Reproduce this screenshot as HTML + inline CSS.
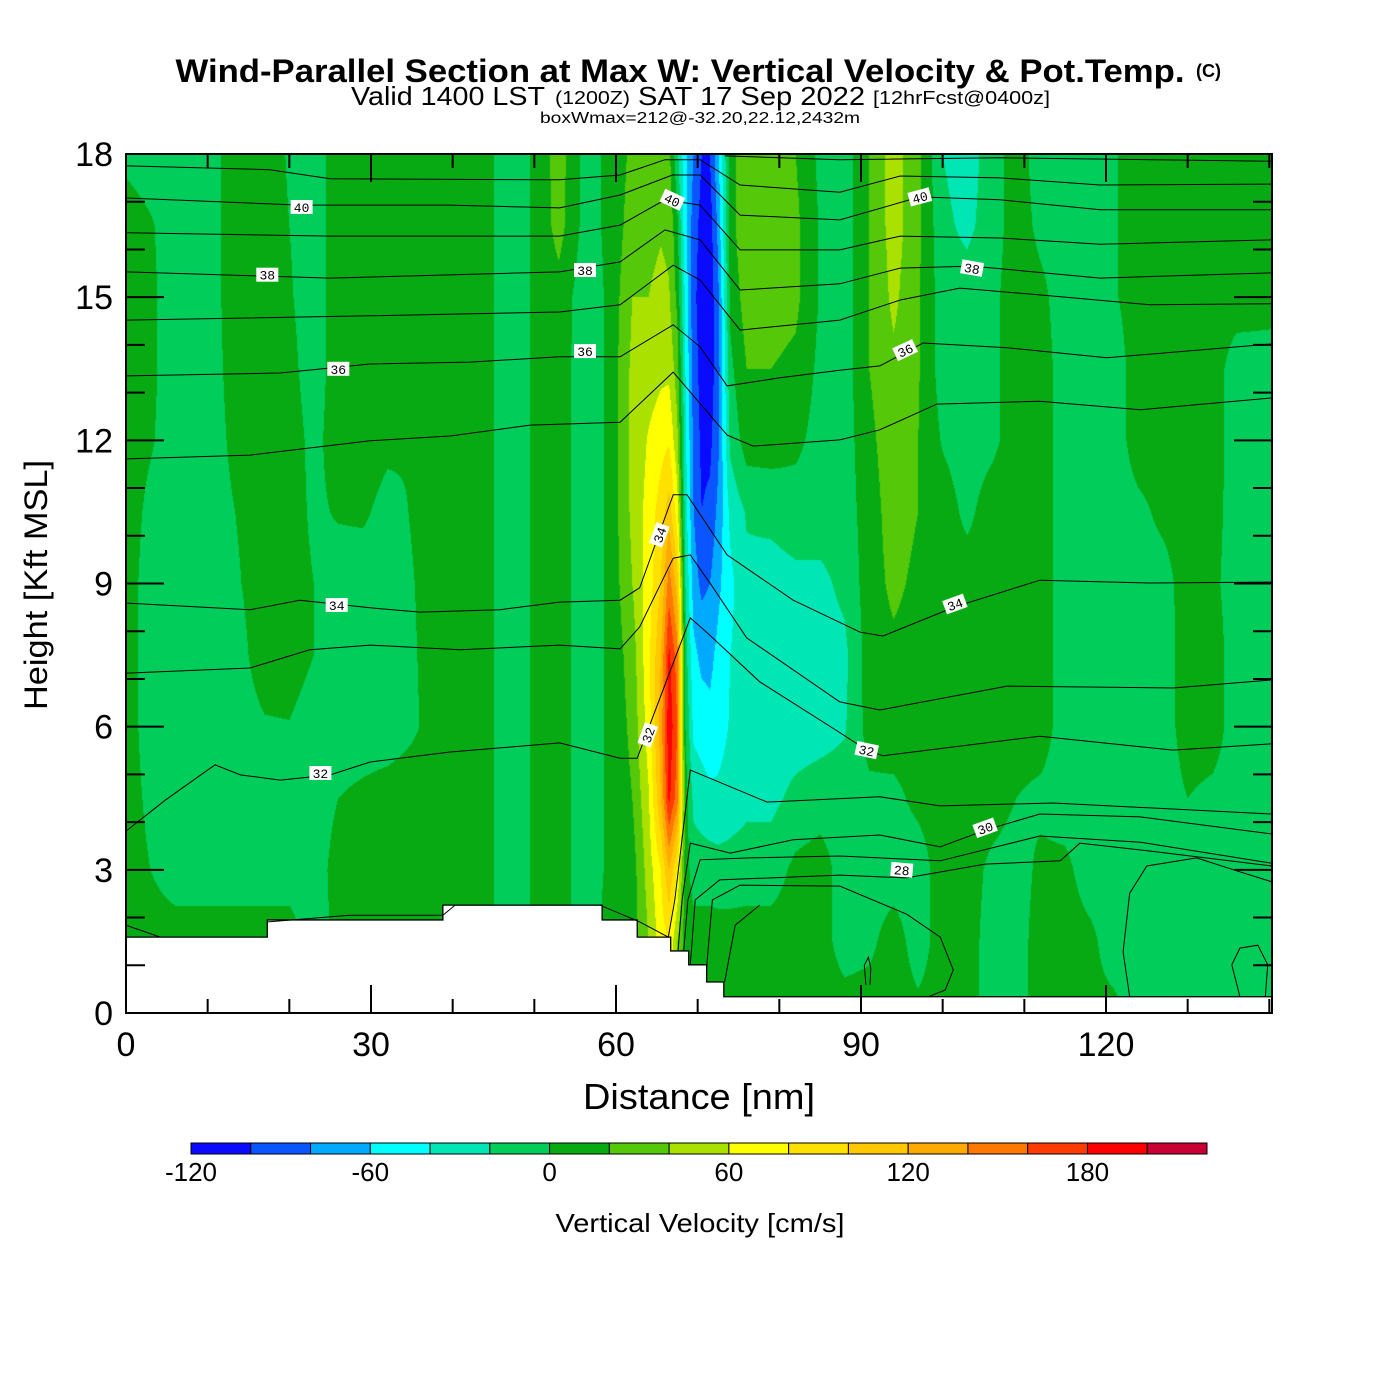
<!DOCTYPE html>
<html><head><meta charset="utf-8">
<style>
html,body{margin:0;padding:0;background:#fff;}
#wrap{position:relative;width:1400px;height:1400px;overflow:hidden;font-family:"Liberation Sans",Arial,sans-serif;}
#field{position:absolute;left:126px;top:154px;}
#ov{position:absolute;left:0;top:0;}
</style></head>
<body>
<div id="wrap">
<canvas id="field" width="1146" height="859"></canvas>
<svg id="ov" width="1400" height="1400" xmlns="http://www.w3.org/2000/svg">
  <g id="terrain"></g>
  <g id="contours"></g>
  <g id="clabels"></g>
  <rect x="126" y="154" width="1146" height="859" fill="none" stroke="#000" stroke-width="2"/>
  <g id="ticks"></g>
  <g id="ticklabels" font-size="34" fill="#000"></g>
  <text x="680" y="82" text-anchor="middle" font-weight="bold" font-size="32" textLength="1009" lengthAdjust="spacingAndGlyphs">Wind-Parallel Section at Max W: Vertical Velocity &amp; Pot.Temp.</text>
  <text x="1196" y="77" font-weight="bold" font-size="18">(C)</text>
  <text x="351" y="105" font-size="26" textLength="194" lengthAdjust="spacingAndGlyphs">Valid 1400 LST</text>
  <text x="555" y="104" font-size="18" textLength="75" lengthAdjust="spacingAndGlyphs">(1200Z)</text>
  <text x="638" y="105" font-size="26" textLength="227" lengthAdjust="spacingAndGlyphs">SAT 17 Sep 2022</text>
  <text x="873" y="104" font-size="18" textLength="177" lengthAdjust="spacingAndGlyphs">[12hrFcst@0400z]</text>
  <text x="700" y="123" text-anchor="middle" font-size="16" textLength="320" lengthAdjust="spacingAndGlyphs">boxWmax=212@-32.20,22.12,2432m</text>
  <text transform="translate(47,585) rotate(-90)" text-anchor="middle" font-size="32" textLength="250" lengthAdjust="spacingAndGlyphs">Height [Kft MSL]</text>
  <text x="699" y="1109" text-anchor="middle" font-size="36" textLength="232" lengthAdjust="spacingAndGlyphs">Distance [nm]</text>
  <g id="cbar"></g>
  <text x="700" y="1232" text-anchor="middle" font-size="26" textLength="289" lengthAdjust="spacingAndGlyphs">Vertical Velocity [cm/s]</text>
</svg>
</div>
<script>
// ---- data ----
const xsNm = [0,3,6,10,13,17,20,23,26,29,32,35,39,43,47,50,53,56,59,62,64,65.5,66.5,67.5,68.5,69.5,70.5,71.5,72.5,74,76,79,82,85,88,91,94,97,100,103,106,109,112,115,118,121,124,127,130,133,136,140.5];
const ysKft = [0,1.5,3,4.5,6,7.5,9,10.5,12,13.5,15,16.5,18];
const wColumns = [
[10,10,10,10,10,10,10,10,10,10,10,10,-5],
[10,10,0,-5,-10,-10,-10,-5,2,4,4,2,-10],
[10,10,-10,-10,-10,-10,-10,-10,-10,-10,-10,-10,-10],
[10,10,-10,-10,-10,-10,-10,-10,-10,-10,-10,-10,-10],
[10,10,-10,-10,-10,-10,-4,-1,3,6,8,8,8],
[10,10,-10,-10,-2,10,10,10,10,10,10,10,10],
[10,10,-10,-10,-1,10,10,10,10,6,2,0,-2],
[10,-10,-10,-10,-10,0,0,-4,-6,-10,-10,-10,-10],
[10,5,8,0,-10,-10,-10,2,10,10,10,10,10],
[10,10,10,4,-10,-10,-10,3,10,10,10,10,10],
[10,10,10,8,-10,-10,-10,-6,4,10,10,10,10],
[10,10,10,10,-3,-2,-1,1,1,6,8,8,8],
[10,10,10,10,10,10,10,10,10,10,10,10,10],
[10,10,10,10,10,10,10,10,10,10,10,10,10],
[-10,-10,-10,-10,-10,-10,-10,-10,-10,-10,-10,-10,-10],
[2,2,2,2,2,2,2,2,2,2,2,2,2],
[10,10,10,10,10,10,10,10,10,10,12,28,30],
[10,-10,-10,-10,-10,-10,-10,-10,-10,-10,-10,-5,-5],
[10,5,2,2,2,2,2,2,2,2,2,2,2],
[10,10,10,20,25,30,40,45,45,45,40,30,25],
[20,40,50,58,70,75,70,68,62,50,40,35,30],
[40,70,80,120,130,120,100,90,72,55,45,38,32],
[50,80,120,185,195,185,150,110,78,55,42,35,25],
[20,40,80,150,160,150,110,70,45,30,15,5,-15],
[10,10,10,10,0,-10,-20,-30,-35,-40,-45,-55,-55],
[10,10,-10,-25,-45,-55,-70,-80,-85,-90,-95,-90,-80],
[10,10,-10,-30,-50,-65,-85,-100,-105,-108,-110,-108,-100],
[10,10,-10,-35,-55,-65,-80,-95,-105,-110,-112,-110,-100],
[10,10,-12,-35,-50,-55,-65,-75,-85,-90,-85,-75,-65],
[10,10,-12,-30,-38,-40,-45,-35,-15,-5,5,10,10],
[10,10,-10,-25,-30,-30,-25,-18,10,20,30,40,40],
[10,10,-10,-25,-30,-32,-28,-15,10,20,30,35,35],
[10,10,5,-15,-30,-32,-25,-10,5,15,25,25,20],
[10,10,10,-10,-28,-30,-25,-10,-8,-5,-2,-2,-5],
[10,-10,-10,-10,-22,-25,-15,-10,-10,-10,-10,-10,-10],
[10,-5,-10,-5,8,10,10,10,15,20,20,20,20],
[10,10,-10,-5,10,15,25,30,32,35,45,50,50],
[5,-10,-10,5,10,10,15,20,20,22,22,25,25],
[10,10,10,10,10,10,10,10,-2,-10,-10,-15,-20],
[10,10,10,10,10,10,10,-5,-10,-10,-10,-25,-30],
[-10,-10,-5,10,10,10,10,10,-5,-5,-5,-10,-10],
[-10,-10,-10,0,10,10,10,10,10,10,10,10,10],
[10,10,5,-5,10,10,10,10,10,10,5,-5,-10],
[10,10,5,-10,-10,-10,-10,-10,-10,-10,-10,-10,-10],
[5,5,-10,-10,-10,-10,-10,-10,-10,-10,-10,-10,-10],
[5,-10,-10,-10,-10,-10,-10,-10,-10,-10,-2,-2,-2],
[-10,-10,-10,-10,-10,-10,-10,-5,10,10,10,10,10],
[-10,-10,-10,-10,-10,-10,-8,5,10,10,10,10,10],
[-10,-10,-10,0,10,10,10,10,10,10,10,10,10],
[-10,-10,-10,-5,10,10,5,8,10,10,10,10,10],
[-10,-10,-10,-10,-10,-10,-10,-10,-10,-10,10,10,10],
[-10,-10,-10,-10,-10,-10,-10,-10,-10,-10,8,10,10]
];
const levels = [-120,-100,-80,-60,-40,-20,0,20,40,60,80,100,120,140,160,180,200,220];
const binColors = ["#0a0aff","#0a55ff","#00aaff","#00ffff","#00e6b4","#00cd5a","#08aa14","#55c80a","#aae100","#ffff00","#ffe100","#ffc800","#ffaa00","#ff7800","#ff3c00","#ff0000","#c80032"];
const cbarTickValues = [-120,-60,0,60,120,180];
const terrainEdgesNm = [0,17.3,38.8,58.3,62.6,66.7,68.9,71.1,73.2,140.3];
const terrainHeightsKft = [1.59,1.95,2.26,1.95,1.59,1.30,1.01,0.65,0.34];
const yTickMajor = [0,3,6,9,12,15,18];
const xTickMajor = [0,30,60,90,120];
const thetaLevels = [42,41,40,39,38,37,36,35,34,33,32,31,30,29,28,27,26];
const theta42 = [[73.3,17.96],[87.4,17.88],[107,17.92],[140.3,17.85]];
const theta41 = [[0,17.75],[17.6,17.67],[25,17.48],[53.1,17.46],[60.5,17.56],[66,17.88],[70.3,17.88],[75.2,17.35],[87.4,17.2],[94.8,17.54],[107,17.5],[119.3,17.35],[140.3,17.37]];
const theta40 = [[0,17.08],[21.3,16.93],[39.7,16.93],[53.1,16.87],[60.5,17.14],[66.9,17.56],[70.3,17.56],[75.2,16.72],[87.4,16.62],[97.2,17.1],[107,17.04],[119.3,16.83],[140.3,16.83]];
const theta39 = [[0,16.35],[25,16.28],[53.1,16.28],[60.5,16.51],[66,17.04],[70.3,16.93],[75.2,15.99],[87.4,15.99],[94.8,16.28],[107,16.24],[119.3,16.11],[140.3,16.2]];
const theta38 = [[0,15.53],[25,15.4],[53.1,15.53],[60.5,15.74],[66,16.41],[70.3,16.2],[75.2,15.15],[87.4,15.28],[94.8,15.61],[103.6,15.65],[119.3,15.4],[140.3,15.51]];
const theta37 = [[0,14.52],[29.9,14.61],[53.1,14.69],[60.5,14.84],[67,15.67],[70.3,15.36],[75.2,14.31],[87.4,14.52],[94.8,14.94],[102.1,15.19],[113.1,15.03],[125.4,14.84],[140.3,14.86]];
const theta36 = [[0,13.35],[18.9,13.41],[29.9,13.6],[42.1,13.64],[53.1,13.75],[60.5,13.75],[67,14.42],[70.3,13.96],[73.6,13.14],[80.1,13.31],[87.4,13.47],[92.3,13.56],[97.6,14.04],[107.9,13.94],[120.1,13.73],[140.3,14.02]];
const theta35 = [[0,11.61],[15.2,11.69],[29.9,11.99],[39.7,12.09],[49.5,12.32],[60.5,12.38],[67,13.43],[73.6,12.11],[76.8,11.88],[87.4,12.01],[92.3,12.22],[99.3,12.76],[111.9,12.82],[124.2,12.64],[140.3,12.89]];
const theta34 = [[0,8.59],[15.2,8.45],[21.3,8.65],[29.9,8.49],[36,8.4],[45.8,8.45],[53.1,8.61],[60.5,8.65],[62.9,8.91],[67,10.86],[68.7,10.86],[73.6,9.6],[81.7,8.65],[89.9,7.98],[92.7,7.9],[101.5,8.51],[111.9,9.07],[125.4,9.01],[140.3,9.03]];
const theta33 = [[0,7.12],[15.2,7.23],[22.5,7.61],[29.9,7.71],[40.9,7.61],[53.1,7.71],[60.5,7.63],[62.9,8.09],[67,9.53],[69.1,9.6],[71.9,8.91],[76,7.86],[87.4,6.52],[92.3,6.35],[107.9,6.85],[128.2,6.81],[140.3,6.98]];
const theta32 = [[0,3.81],[4.8,4.46],[10.9,5.2],[14,4.99],[18.9,4.88],[25,4.99],[29.9,5.26],[39.7,5.47],[53.1,5.66],[60.5,5.34],[62.6,5.34],[69.1,8.28],[71.1,7.98],[77.6,6.94],[87.1,5.91],[90.7,5.51],[92.7,5.39],[111.9,5.8],[128.2,5.51],[140.3,5.64]];
const theta31a = [[0,1.84],[4.2,1.59]];
const theta31 = [[17.4,1.91],[27.4,2.05],[38.8,2.05],[40.3,2.26],[58,2.26],[62.9,1.91],[66.4,1.59],[67.2,2.37],[69.1,5.09],[78.5,4.42],[92.3,4.53],[99.7,4.34],[113.5,4.4],[140.3,4.17]];
const theta30 = [[67.6,1.32],[68.1,2.37],[69.1,3.56],[74,3.35],[81.7,3.63],[92.3,3.73],[99.7,3.48],[105.2,3.83],[111.9,4.17],[124.2,4.11],[140.3,3.75]];
const theta29 = [[68.3,1.32],[68.8,2.37],[70.3,3.21],[76.4,3.25],[87.4,3.29],[99.7,3.19],[111.9,3.71],[124.2,3.58],[140.3,3.14]];
const theta28 = [[69.1,1.01],[69.7,2.37],[72.7,2.79],[87.4,2.89],[95.6,2.83],[105.2,3.12],[114.4,3.19],[116.8,3.56],[126.6,3.37],[140.3,3.08]];
const theta27 = [[71.1,0.96],[71.8,2.37],[75.2,2.68],[87.4,2.66],[95.6,2.07],[99.7,1.59],[101.3,0.9],[100.3,0.48],[98.2,0.34]];
const theta26 = [[73.3,0.65],[74.6,1.84],[77.6,2.26]];
const thetaRight = [[122.9,0.34],[122.1,1.28],[122.9,2.51],[125,3.08],[131.1,3.25],[136,2.98],[140.3,2.75]];
const thetaLoop1 = [[136.4,0.34],[135.4,1.01],[136.4,1.36],[138.6,1.42],[139.8,1.01],[139.5,0.34]];
const thetaLoop2 = [[90.6,0.59],[90.4,1.0],[90.9,1.17],[91.2,0.94],[91.1,0.59]];
const labelValues = [40,38,36,34,32,38,36,40,34,32,40,38,36,34,32,30,28];
const labelNm = [21.5,17.3,26,25.8,23.8,56.2,56.2,66.9,65.3,63.9,97.2,103.6,95.4,101.5,90.7,105.2,95];
const labelKft = [16.89,15.47,13.5,8.55,5.03,15.57,13.87,17.04,10.02,5.83,17.1,15.61,13.89,8.57,5.51,3.88,3.0];
const labelAngle = [0,0,0,0,0,0,0,25,-70,-70,-15,10,-25,-20,12,-20,5];

// ---- axes ----
const PX0=126, PX1=1272, PY0=1013, PY1=154;
const XPN = 245/30, YPK = (PY0-PY1)/18;
function X(nm){return PX0 + nm*XPN;}
function Y(k){return PY0 - k*YPK;}
const NS="http://www.w3.org/2000/svg";
function mk(tag, attrs, parent){const e=document.createElementNS(NS,tag);for(const k in attrs)e.setAttribute(k,attrs[k]);parent.appendChild(e);return e;}

// ---- field ----
(function(){
  const cv=document.getElementById('field');const ctx=cv.getContext('2d');
  const W=cv.width,H=cv.height;const img=ctx.createImageData(W,H);
  const rgb=binColors.map(c=>[parseInt(c.substr(1,2),16),parseInt(c.substr(3,2),16),parseInt(c.substr(5,2),16)]);
  const nx=xsNm.length, ny=ysKft.length;
  for(let px=0;px<W;px++){
    const nm=(px+0.5)/XPN;
    let i=0;while(i<nx-2&&xsNm[i+1]<nm)i++;
    let tx=(nm-xsNm[i])/(xsNm[i+1]-xsNm[i]);tx=Math.max(0,Math.min(1,tx));
    for(let py=0;py<H;py++){
      const k=(H-py-0.5)/YPK;
      let j=0;while(j<ny-2&&ysKft[j+1]<k)j++;
      let ty=(k-ysKft[j])/(ysKft[j+1]-ysKft[j]);ty=Math.max(0,Math.min(1,ty));
      const a=wColumns[i][j],b=wColumns[i+1][j],c=wColumns[i][j+1],d=wColumns[i+1][j+1];
      const v=(a*(1-tx)+b*tx)*(1-ty)+(c*(1-tx)+d*tx)*ty;
      let bi=0;while(bi<binColors.length-1&&v>=levels[bi+1])bi++;
      const o=(py*W+px)*4;const col=rgb[bi];
      img.data[o]=col[0];img.data[o+1]=col[1];img.data[o+2]=col[2];img.data[o+3]=255;
    }
  }
  ctx.putImageData(img,0,0);
})();

// ---- terrain ----
(function(){
  const g=document.getElementById('terrain');
  let d='M'+X(0)+','+Y(0);
  for(let i=0;i<terrainHeightsKft.length;i++){
    d+=' L'+X(terrainEdgesNm[i])+','+Y(terrainHeightsKft[i])+' L'+X(terrainEdgesNm[i+1])+','+Y(terrainHeightsKft[i]);
  }
  d+=' L'+X(terrainEdgesNm[terrainEdgesNm.length-1])+','+Y(0)+' Z';
  const p=mk('path',{d:d,fill:'#fff',stroke:'#000','stroke-width':'1.3'},g);
  
  
})();

// ---- contours ----
(function(){
  const g=document.getElementById('contours');
  const lines=[theta42,theta41,theta40,theta39,theta38,theta37,theta36,theta35,theta34,theta33,theta32,theta31,theta30,theta29,theta28,theta27,theta26];
  const extra=[theta31a,thetaRight,thetaLoop1,thetaLoop2];
  function draw(arr,name){
    const pts=arr.map(p=>X(p[0]).toFixed(1)+','+Y(p[1]).toFixed(1)).join(' ');
    const e=mk('polyline',{points:pts,fill:'none',stroke:'#000','stroke-width':'1'},g);
    
    
  }
  lines.forEach((l,i)=>draw(l,'theta-contour-'+thetaLevels[i]));
  extra.forEach((l,i)=>draw(l,'theta-contour-extra-'+i));
  const lg=document.getElementById('clabels');
  for(let i=0;i<labelValues.length;i++){
    const t=mk('g',{transform:'translate('+X(labelNm[i]).toFixed(1)+','+Y(labelKft[i]).toFixed(1)+') rotate('+labelAngle[i]+')'},lg);
    
    
    mk('rect',{x:-11,y:-7,width:22,height:14,fill:'#fff'},t);
    const tx=mk('text',{x:0,y:5,'text-anchor':'middle','font-size':'13','font-family':'Liberation Mono, monospace'},t);
    tx.textContent=labelValues[i];
  }
})();

// ---- ticks ----
(function(){
  const g=document.getElementById('ticks');const tl=document.getElementById('ticklabels');
  let d='';
  for(let k=0;k<=18;k++){
    const L=(k%3===0)?38:19;const y=Y(k);
    d+='M'+PX0+','+y+' h'+L+' M'+PX1+','+y+' h'+(-L)+' ';
  }
  for(let n=0;n<=140;n+=10){
    const L=(n%30===0)?28:14;const x=X(n);
    d+='M'+x+','+PY0+' v'+(-L)+' M'+x+','+PY1+' v'+L+' ';
  }
  const p=mk('path',{d:d,stroke:'#000','stroke-width':'2',fill:'none'},g);
  
  
  yTickMajor.forEach(k=>{
    const t=mk('text',{x:113,y:Y(k)+12,'text-anchor':'end'},tl);
    
    
    t.textContent=k;
  });
  xTickMajor.forEach(n=>{
    const t=mk('text',{x:X(n),y:1056,'text-anchor':'middle'},tl);
    
    
    t.textContent=n;
  });
})();

// ---- colorbar ----
(function(){
  const g=document.getElementById('cbar');
  const CX0=191,CX1=1207,CY=1143,CH=11;
  const vmin=levels[0],vmax=levels[levels.length-1];
  function CXv(v){return CX0+(v-vmin)/(vmax-vmin)*(CX1-CX0);}
  for(let i=0;i<binColors.length;i++){
    const r=mk('rect',{x:CXv(levels[i]),y:CY,width:CXv(levels[i+1])-CXv(levels[i]),height:CH,fill:binColors[i],stroke:'#000','stroke-width':'1'},g);
    
    
  }
  cbarTickValues.forEach(v=>{
    const t=mk('text',{x:CXv(v),y:1181,'text-anchor':'middle','font-size':'26'},g);
    
    
    t.textContent=v;
  });
})();
</script>
</body></html>
